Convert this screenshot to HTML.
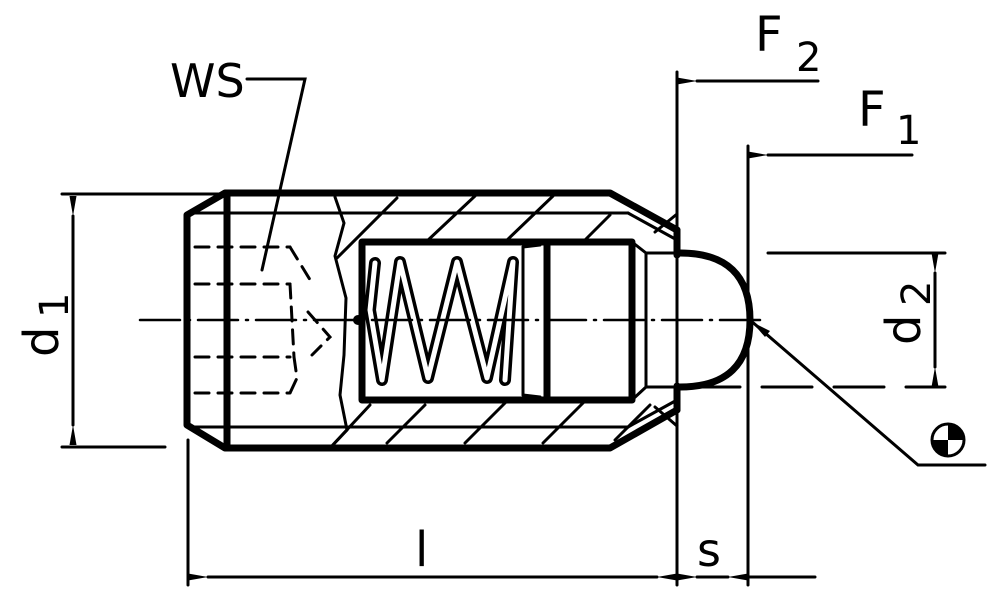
<!DOCTYPE html>
<html><head><meta charset="utf-8"><style>
html,body{margin:0;padding:0;background:#fff}
svg{display:block}
text{font-family:"DejaVu Sans","Liberation Sans",sans-serif;fill:#000}
</style></head><body>
<svg width="1000" height="598" viewBox="0 0 1000 598" xmlns="http://www.w3.org/2000/svg">
<defs>
<marker id="ar" viewBox="0 0 20 8" refX="0" refY="4" markerWidth="20" markerHeight="8" markerUnits="userSpaceOnUse" orient="auto-start-reverse"><path d="M0,4 L20,0.5 L20,7.5 Z" fill="#000"/></marker>
</defs>
<g stroke="#000" stroke-linecap="round" fill="none">
<g stroke-width="7" stroke-linejoin="round">
<polyline points="677,230 610,193 225,193 187,215 187,425 225,448 610,448 677,410"/>
<line x1="227" y1="193" x2="227" y2="448"/>
<rect x="362" y="242" width="270" height="158"/>
<line x1="547" y1="242" x2="547" y2="400"/>
<line x1="677" y1="230" x2="677" y2="255"/>
<line x1="677" y1="386" x2="677" y2="410"/>
<path d="M680,253 Q750,253 750,320 Q750,387 680,387"/>
</g>
<g stroke-width="3">
<line x1="187" y1="213" x2="628" y2="213"/>
<line x1="187" y1="427" x2="628" y2="427"/>
<line x1="628" y1="213" x2="677" y2="240"/>
<line x1="628" y1="427" x2="677" y2="400"/>
<line x1="632" y1="242" x2="646" y2="253"/>
<line x1="632" y1="400" x2="646" y2="387"/>
<line x1="646" y1="253" x2="646" y2="387"/>
<line x1="646" y1="253" x2="680" y2="253"/>
<line x1="646" y1="387" x2="680" y2="387"/>
<line x1="523" y1="247" x2="523" y2="395"/>
<line x1="523" y1="247" x2="540" y2="245"/>
<line x1="523" y1="395" x2="540" y2="397"/>
<line x1="655" y1="232" x2="677" y2="214"/>
<line x1="655" y1="407" x2="677" y2="426"/>
<polyline points="335,197 344,223 335,256 346,298 344,355 340,395 347,430 330,448"/>
<line x1="337" y1="258" x2="397" y2="198"/>
<line x1="426" y1="242" x2="475" y2="196"/>
<line x1="505" y1="242" x2="553" y2="196"/>
<line x1="583" y1="242" x2="610" y2="215"/>
<line x1="330" y1="448" x2="370" y2="405"/>
<line x1="387" y1="443" x2="425" y2="405"/>
<line x1="465" y1="443" x2="505" y2="403"/>
<line x1="543" y1="443" x2="583" y2="403"/>
<line x1="615" y1="440" x2="650" y2="405"/>
<g stroke-dasharray="14,9">
<line x1="195" y1="247" x2="290" y2="247"/>
<line x1="195" y1="284" x2="290" y2="284"/>
<line x1="195" y1="357" x2="290" y2="357"/>
<line x1="195" y1="393" x2="290" y2="393"/>
<polyline points="290,247 312,283"/>
<polyline points="290,284 292,320 294,357"/>
<polyline points="294,357 297,378 290,393"/>
<polyline points="308,312 330,337 312,355"/>
</g>
</g>
<polyline points="375,263 370,310 382,380 400,262 428,378 457,262 487,378 513,262 505,380" stroke-width="12" stroke-linejoin="round"/>
<polyline points="375,263 370,310 382,380 400,262 428,378 457,262 487,378 513,262 505,380" stroke="#fff" stroke-width="5" stroke-linejoin="round"/>
<line x1="140" y1="320" x2="765" y2="320" stroke-width="2.5" stroke-dasharray="40,8,2,8"/>
<circle cx="358" cy="320" r="5" fill="#000" stroke="none"/>
<g stroke-width="3">
<line x1="62" y1="194" x2="225" y2="194"/>
<line x1="62" y1="447" x2="165" y2="447"/>
<line x1="73" y1="216" x2="73" y2="425" marker-start="url(#ar)" marker-end="url(#ar)"/>
<line x1="677" y1="72" x2="677" y2="585"/>
<line x1="748" y1="146" x2="748" y2="585"/>
<line x1="697" y1="81" x2="818" y2="81" marker-start="url(#ar)"/>
<line x1="768" y1="155" x2="912" y2="155" marker-start="url(#ar)"/>
<line x1="768" y1="253" x2="945" y2="253"/>
<line x1="690" y1="387" x2="945" y2="387" stroke-dasharray="50,22"/>
<line x1="935" y1="273" x2="935" y2="367" marker-start="url(#ar)" marker-end="url(#ar)"/>
<line x1="188" y1="440" x2="188" y2="585"/>
<line x1="208" y1="577" x2="657" y2="577" marker-start="url(#ar)" marker-end="url(#ar)"/>
<line x1="697" y1="577" x2="728" y2="577" marker-start="url(#ar)" marker-end="url(#ar)"/>
<line x1="748" y1="577" x2="815" y2="577"/>
<polyline points="750,320 918,465 985,465"/>
<polyline points="247,79 305,79 262,270"/>
</g>
<circle cx="948" cy="440" r="16" stroke-width="3"/>
</g>
<path d="M948,440 L948,424 A16,16 0 0 1 964,440 Z" fill="#000"/>
<path d="M948,440 L948,456 A16,16 0 0 1 932,440 Z" fill="#000"/>
<path d="M752,322 L770,331 L765,337 Z" fill="#000"/>
<text x="170" y="97" font-size="46">WS</text>
<text x="755" y="51" font-size="48">F</text>
<text x="796" y="71" font-size="40">2</text>
<text x="858" y="126" font-size="48">F</text>
<text x="896" y="144" font-size="40">1</text>
<text x="415" y="566" font-size="48">l</text>
<text x="697" y="566" font-size="46">s</text>
<text transform="translate(58,357) rotate(-90)" font-size="48">d</text>
<text transform="translate(68,318) rotate(-90)" font-size="40">1</text>
<text transform="translate(920,345) rotate(-90)" font-size="48">d</text>
<text transform="translate(930,306) rotate(-90)" font-size="40">2</text>
</svg>
</body></html>
